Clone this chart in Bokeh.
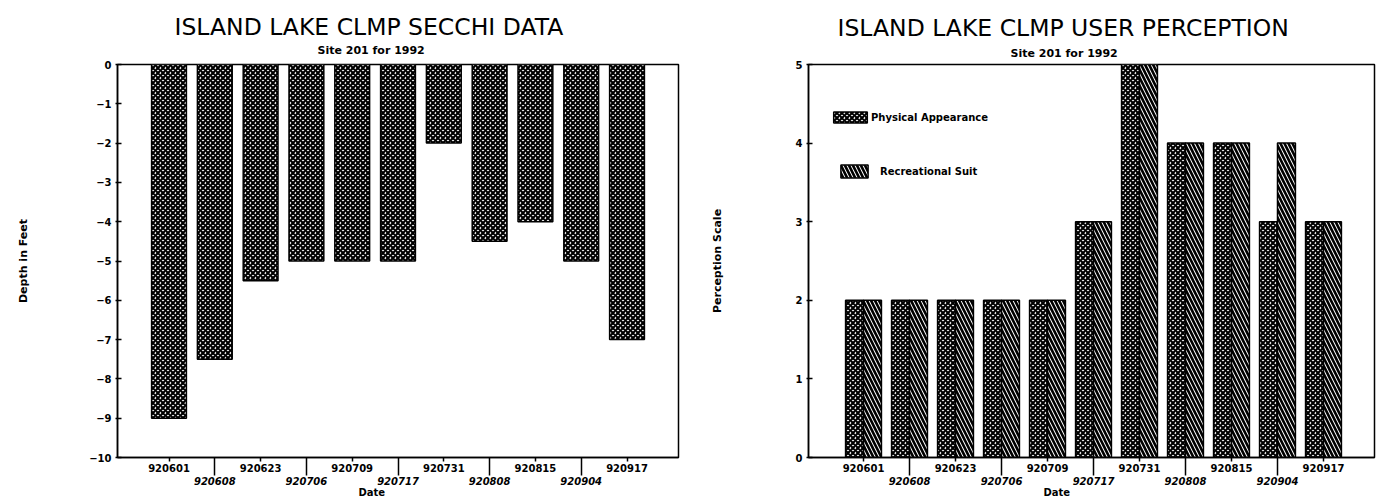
from bokeh.plotting import figure
from bokeh.models import (Range1d, LinearAxis, FixedTicker, Legend,
                          LegendItem, ColumnDataSource, Title)
from bokeh.layouts import row
from bokeh.transform import dodge
from bokeh.embed import file_html
from bokeh.resources import INLINE

# ---------------- data ----------------
dates = ["920601", "920608", "920623", "920706", "920709", "920717",
         "920731", "920808", "920815", "920904", "920917"]
secchi_depth = [-9.0, -7.5, -5.5, -5.0, -5.0, -5.0, -2.0, -4.5, -4.0, -5.0, -7.0]
physical_appearance = [2, 2, 2, 2, 2, 3, 5, 4, 4, 3, 3]
recreational_suit = [2, 2, 2, 2, 2, 3, 5, 4, 4, 4, 3]
depth_ticks = list(range(-10, 1))
scale_ticks = [0, 1, 2, 3, 4, 5]

pos = [i + 1 for i in range(len(dates))]
upper_pos = pos[0::2]
lower_pos = pos[1::2]

FONT = "DejaVu Sans"
TICK_SIZE = "10px"


def style_frame(p):
    p.grid.visible = False
    p.outline_line_color = "black"
    p.outline_line_width = 1.5
    p.outline_line_alpha = 1.0
    p.background_fill_color = "white"
    p.border_fill_color = "white"


def style_yaxis(ax, label, standoff):
    ax.axis_label = label
    ax.axis_label_standoff = standoff
    ax.axis_label_text_font = FONT
    ax.axis_label_text_font_size = "11px"
    ax.axis_label_text_font_style = "bold"
    ax.axis_label_text_color = "black"
    ax.major_label_text_font = FONT
    ax.major_label_text_font_size = TICK_SIZE
    ax.major_label_text_font_style = "bold"
    ax.major_label_text_color = "black"
    ax.major_label_standoff = 4
    ax.major_tick_in = 4
    ax.major_tick_out = 2
    ax.minor_tick_in = 0
    ax.minor_tick_out = 0
    ax.axis_line_color = "black"
    ax.axis_line_width = 1.5
    ax.major_tick_line_width = 1.5
    ax.major_tick_line_color = "black"


def add_date_axes(p, date_offset):
    ax_a = LinearAxis(
        ticker=FixedTicker(ticks=upper_pos),
        major_label_overrides={x: dates[x - 1] for x in upper_pos},
        major_tick_out=4, major_tick_in=0,
        minor_tick_out=0, minor_tick_in=0,
        major_label_standoff=2,
        major_label_text_font=FONT, major_label_text_font_size=TICK_SIZE,
        major_label_text_font_style="bold", major_label_text_color="black",
        axis_line_color="black", axis_line_width=1.5,
        major_tick_line_width=1.5, major_tick_line_color="black",
    )
    p.add_layout(ax_a, "below")
    ax_b = LinearAxis(
        ticker=FixedTicker(ticks=lower_pos),
        major_label_overrides={x: dates[x - 1] for x in lower_pos},
        major_tick_out=1, major_tick_in=17,
        minor_tick_out=0, minor_tick_in=0,
        major_label_standoff=1,
        major_label_text_font=FONT, major_label_text_font_size=TICK_SIZE,
        major_label_text_font_style="bold italic", major_label_text_color="black",
        axis_line_color=None,
        major_tick_line_width=1.5, major_tick_line_color="black",
    )
    p.add_layout(ax_b, "below")
    p.add_layout(Title(text="Date", align="left", offset=date_offset,
                       vertical_align="top", standoff=-2,
                       text_font=FONT, text_font_size="10px",
                       text_font_style="bold", text_color="black"), "below")


def add_titles(p, title, title_offset, title_standoff, sub_offset, sub_standoff):
    p.add_layout(Title(text="Site 201 for 1992", align="left",
                       offset=sub_offset, vertical_align="middle",
                       standoff=sub_standoff, text_font=FONT,
                       text_font_size="11px", text_font_style="bold",
                       text_color="black"), "above")
    p.add_layout(Title(text=title, align="left", offset=title_offset,
                       vertical_align="bottom", standoff=title_standoff,
                       text_font=FONT, text_font_size="23.5px",
                       text_font_style="normal", text_color="black"), "above")


# ---------------- left chart: Secchi depth ----------------
left_src = ColumnDataSource(dict(pos=pos, depth=secchi_depth,
                                 zero=[0] * len(pos)))

p1 = figure(width=690, height=501,
            x_range=Range1d(-0.1245, 12.124), y_range=Range1d(-10, 0),
            x_axis_type=None, output_backend="svg", toolbar_location=None,
            min_border_left=117, min_border_right=12,
            min_border_top=61, min_border_bottom=44)
style_frame(p1)
p1.yaxis.ticker = FixedTicker(ticks=depth_ticks)
style_yaxis(p1.yaxis[0], "Depth in Feet", 56)
add_date_axes(p1, 241)
add_titles(p1, "ISLAND LAKE CLMP SECCHI DATA", 57, -9, 200, 13)

p1.vbar(x="pos", top="zero", bottom="depth", width=0.76, source=left_src,
        fill_color="white", hatch_pattern="diagonal_cross",
        hatch_color="black", hatch_scale=5, hatch_weight=2.2,
        line_color="black", line_width=1.5)

# ---------------- right chart: user perception ----------------
right_src = ColumnDataSource(dict(pos=pos, phys=physical_appearance,
                                  rec=recreational_suit))

p2 = figure(width=687, height=501,
            x_range=Range1d(-0.196, 12.109), y_range=Range1d(0, 5),
            x_axis_type=None, output_backend="svg", toolbar_location=None,
            min_border_left=118, min_border_right=3,
            min_border_top=64, min_border_bottom=44)
style_frame(p2)
p2.yaxis.ticker = FixedTicker(ticks=scale_ticks)
style_yaxis(p2.yaxis[0], "Perception Scale", 69)
add_date_axes(p2, 235)
add_titles(p2, "ISLAND LAKE CLMP USER PERCEPTION", 29, 2, 202, 7)

r_phys = p2.vbar(x=dodge("pos", -0.195), top="phys", bottom=0, width=0.39,
                 source=right_src, fill_color="white",
                 hatch_pattern="diagonal_cross", hatch_color="black",
                 hatch_scale=5, hatch_weight=2.2,
                 line_color="black", line_width=1.5)
r_rec = p2.vbar(x=dodge("pos", 0.195), top="rec", bottom=0, width=0.39,
                source=right_src, fill_color="white",
                hatch_pattern="left_diagonal_line", hatch_color="black",
                hatch_scale=8, hatch_weight=2.6,
                line_color="black", line_width=1.5)

leg_common = dict(padding=0, margin=0, border_line_color=None,
                  background_fill_alpha=0, label_text_font=FONT,
                  label_text_font_size="10px", label_text_font_style="bold",
                  label_text_color="black")
leg1 = Legend(items=[LegendItem(label="Physical Appearance", renderers=[r_phys])],
              location=(21, 333), glyph_width=42, glyph_height=14,
              label_height=14, label_standoff=0, **leg_common)
leg2 = Legend(items=[LegendItem(label="Recreational Suit", renderers=[r_rec])],
              location=(29, 278), glyph_width=34, glyph_height=16,
              label_height=16, label_standoff=9, **leg_common)
p2.add_layout(leg1)
p2.add_layout(leg2)

layout = row(p1, p2)
open("out.html", "w").write(file_html(layout, INLINE))
